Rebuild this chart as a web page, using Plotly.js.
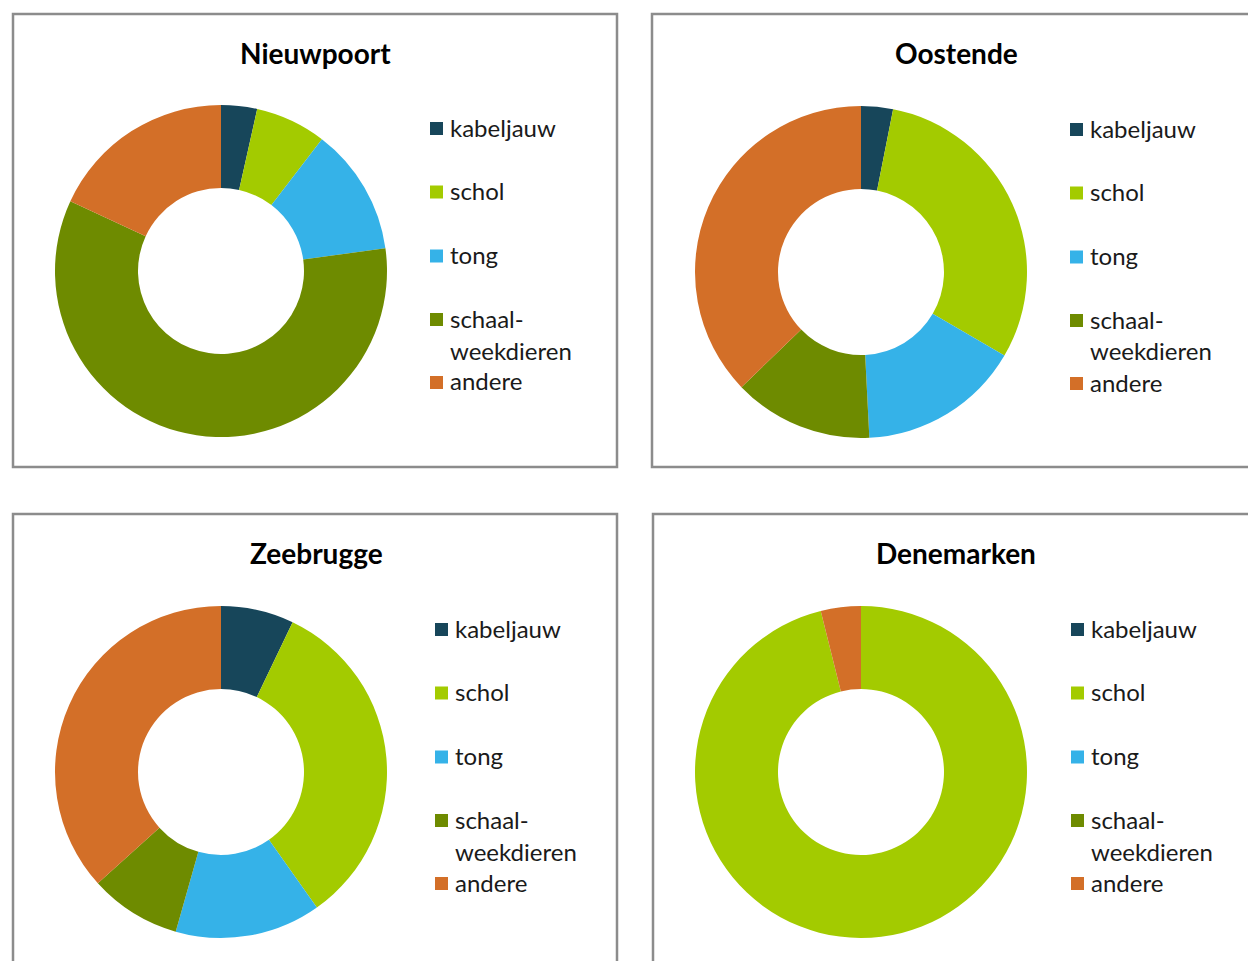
<!DOCTYPE html>
<html>
<head>
<meta charset="utf-8">
<script src="https://cdn.plot.ly/plotly-3.0.1.min.js"></script>
<style>html,body{margin:0;padding:0;background:#fff;}#chart{width:1248px;height:961px;}</style>
</head>
<body>
<div id="chart"></div>
<script>
// ---- data ----
const categories = ["kabeljauw", "schol", "tong", "schaal-<br>weekdieren", "andere"];
const colors = ["#17465a", "#a3cb00", "#35b2e8", "#6e8b00", "#d36f28"];
const titles = ["Nieuwpoort", "Oostende", "Zeebrugge", "Denemarken"];
const nieuwpoort = [3.5, 6.9, 12.4, 59.1, 18.1];
const oostende = [3.1, 30.3, 15.8, 13.6, 37.2];
const zeebrugge = [7.1, 33.1, 14.2, 8.9, 36.7];
const denemarken = [0, 96.1, 0, 0, 3.9];
const series = [nieuwpoort, oostende, zeebrugge, denemarken];

// ---- layout helpers ----
const W = 1248, H = 961;
const px = x => x / W;
const py = y => 1 - y / H;
const FONT = "Lato, 'Open Sans', sans-serif";

const panels = [
  {cx: 221, cy: 271, r: 166, tx: 315, ty: 53, sq: 430, lx: 450, ly: 127, box: [13, 14, 617, 467]},
  {cx: 861, cy: 272, r: 166, tx: 956, ty: 53, sq: 1070, lx: 1090, ly: 128, box: [652, 14, 1260, 467]},
  {cx: 221, cy: 772, r: 166, tx: 316, ty: 553, sq: 435, lx: 455, ly: 628, box: [13, 514, 617, 975]},
  {cx: 861, cy: 772, r: 166, tx: 956, ty: 553, sq: 1071, lx: 1091, ly: 628, box: [653, 514, 1260, 975]}
];
const itemOffsets = [0, 63.5, 127.5, 191, 254];

const traces = [];
const annotations = [];
const shapes = [];

panels.forEach((p, i) => {
  traces.push({
    type: "pie",
    values: series[i],
    labels: categories,
    marker: {colors: colors, line: {width: 0}},
    hole: 0.5,
    sort: false,
    direction: "clockwise",
    rotation: 0,
    textinfo: "none",
    hoverinfo: "label+value",
    showlegend: false,
    domain: {x: [px(p.cx - p.r), px(p.cx + p.r)], y: [py(p.cy + p.r), py(p.cy - p.r)]}
  });
  shapes.push({
    type: "rect", xref: "paper", yref: "paper", layer: "below",
    x0: px(p.box[0]), x1: px(p.box[2]), y0: py(p.box[3]), y1: py(p.box[1]),
    line: {color: "#8c8c8c", width: 2.5}, fillcolor: "rgba(0,0,0,0)"
  });
  annotations.push({
    xref: "paper", yref: "paper", x: px(p.tx), y: py(p.ty),
    xanchor: "center", yanchor: "middle", showarrow: false,
    text: "<b>" + titles[i] + "</b>",
    font: {family: FONT, size: 28, color: "#000"}
  });
  categories.forEach((c, k) => {
    const y = p.ly + itemOffsets[k];
    shapes.push({
      type: "rect", xref: "paper", yref: "paper",
      x0: px(p.sq), x1: px(p.sq + 13), y0: py(y + 8), y1: py(y - 5),
      line: {width: 0}, fillcolor: colors[k]
    });
    c.split("<br>").forEach((line, j) => {
      annotations.push({
        xref: "paper", yref: "paper", x: px(p.lx - 2), y: py(y + j * 32),
        xanchor: "left", yanchor: "middle", showarrow: false,
        text: line,
        font: {family: FONT, size: 24, color: "#1a1a1a"}
      });
    });
  });
});

const layout = {
  width: W, height: H,
  margin: {l: 0, r: 0, t: 0, b: 0},
  paper_bgcolor: "#fff",
  showlegend: false,
  annotations: annotations,
  shapes: shapes
};

Plotly.newPlot("chart", traces, layout, {displayModeBar: false, staticPlot: true});
</script>
</body>
</html>
